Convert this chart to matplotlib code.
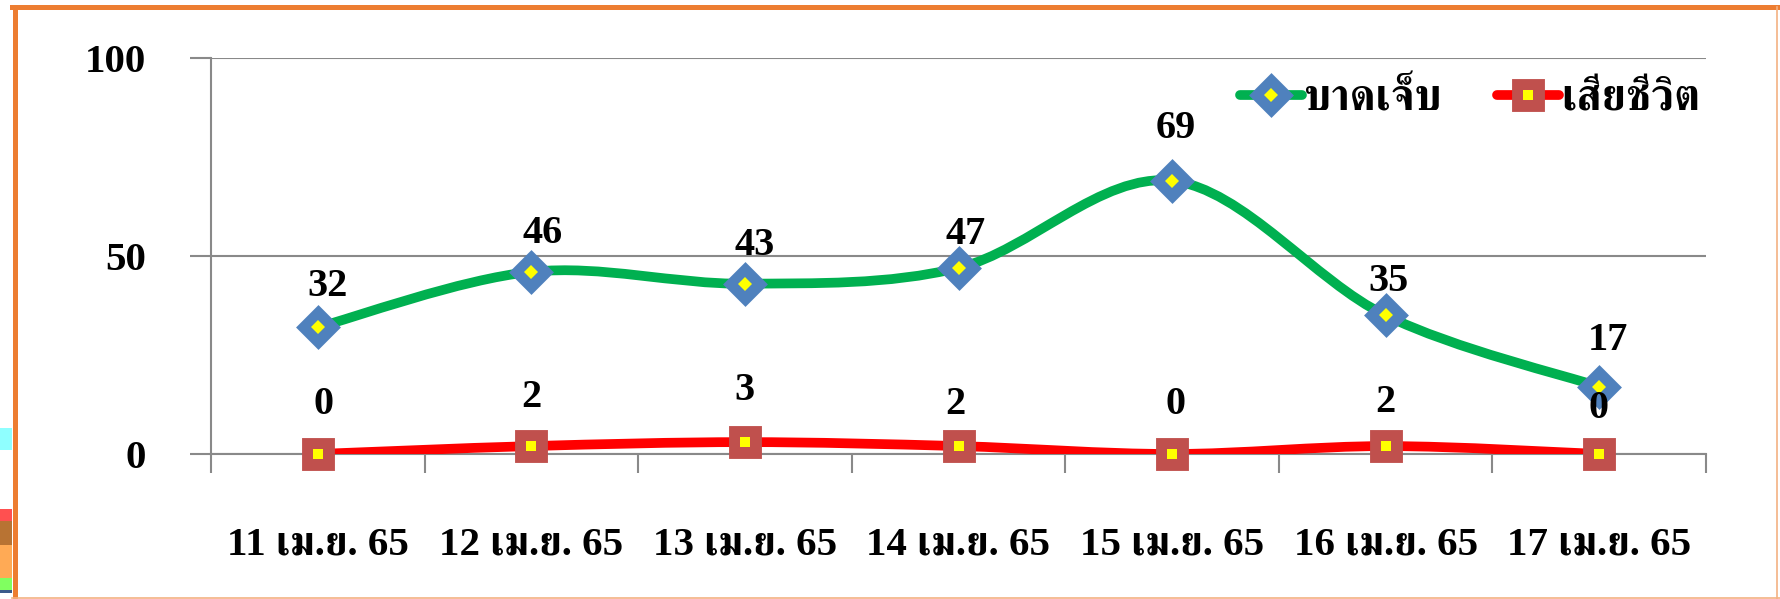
import matplotlib
matplotlib.use("Agg")
import matplotlib.pyplot as plt
from matplotlib.path import Path
from matplotlib.patches import PathPatch, Rectangle
from matplotlib.lines import Line2D
from matplotlib.legend_handler import HandlerTuple

# data
categories = ["11 เม.ย. 65", "12 เม.ย. 65", "13 เม.ย. 65", "14 เม.ย. 65",
              "15 เม.ย. 65", "16 เม.ย. 65", "17 เม.ย. 65"]
injured = [32, 46, 43, 47, 69, 35, 17]
deaths = [0, 2, 3, 2, 0, 2, 0]
series_names = ["บาดเจ็บ", "เสียชีวิต"]
y_ticks = [0, 50, 100]

# hand-placed label offsets in the original (pixels right, pixels up)
injured_label_px = [(10, 41), (11, 38), (10, 38), (7, 33), (4, 52), (3, 34), (9, 46)]
deaths_label_px = [(6, 49), (0, 49), (0, 52), (-3, 42), (3, 50), (0, 44), (-1, 45)]

plt.rcParams["font.family"] = ["Liberation Serif", "FreeSerif"]
plt.rcParams["font.weight"] = "bold"

W, H = 1780, 599
fig = plt.figure(figsize=(W / 100, H / 100), dpi=100)
ax = fig.add_axes([211 / W, 1 - 454 / H, (1706 - 211) / W, (454 - 58) / H])


def smooth_path(xs, ys):
    """Excel-like smoothed line as cubic bezier segments."""
    pts = list(zip(xs, ys))
    verts = [pts[0]]
    codes = [Path.MOVETO]
    n = len(pts)
    for i in range(n - 1):
        p0 = pts[max(i - 1, 0)]
        p1 = pts[i]
        p2 = pts[i + 1]
        p3 = pts[min(i + 2, n - 1)]
        c1 = (p1[0] + (p2[0] - p0[0]) / 6, p1[1] + (p2[1] - p0[1]) / 6)
        c2 = (p2[0] - (p3[0] - p1[0]) / 6, p2[1] - (p3[1] - p1[1]) / 6)
        verts += [c1, c2, p2]
        codes += [Path.CURVE4] * 3
    return Path(verts, codes)


xs = [i + 0.5 for i in range(len(categories))]

styles = [
    dict(vals=injured, offs=injured_label_px, line="#00B050", marker="D",
         ms=19.5, mfc="#4F81BD", inner="D", inner_ms=6.8),
    dict(vals=deaths, offs=deaths_label_px, line="#FF0000", marker="s",
         ms=19.5, mfc="#C0504D", inner="s", inner_ms=7.2),
]

handles = []
for st in styles:
    ax.add_patch(PathPatch(smooth_path(xs, st["vals"]), fill=False,
                           edgecolor=st["line"], lw=7, capstyle="round",
                           joinstyle="round", zorder=3))
    outer, = ax.plot(xs, st["vals"], ls="none", marker=st["marker"], ms=st["ms"],
                     mfc=st["mfc"], mec=st["mfc"], mew=3.5, zorder=4,
                     clip_on=False)
    inner, = ax.plot(xs, st["vals"], ls="none", marker=st["inner"],
                     ms=st["inner_ms"], mfc="#FFFF00", mec="#FFFF00", mew=0,
                     zorder=5, clip_on=False)
    for x, v, (dx, dy) in zip(xs, st["vals"], st["offs"]):
        ax.annotate(str(v), (x, v), xytext=(dx * 0.72, dy * 0.72),
                    textcoords="offset points", ha="center", va="center",
                    fontsize=29, fontweight="bold", zorder=6)
    seg = Line2D([], [], color=st["line"], lw=7, solid_capstyle="round")
    handles.append((seg, outer, inner))

ax.set_xlim(0, len(categories))
ax.set_ylim(0, 100)
ax.set_yticks(y_ticks)
ax.set_yticklabels([str(t) for t in y_ticks])
ax.set_xticks(range(len(categories) + 1))
ax.set_xticklabels([])
ax.set_xticks(xs, minor=True)
ax.set_xticklabels(categories, minor=True)

grey = "#898989"
ax.grid(axis="y", color=grey, lw=1.5)
ax.set_axisbelow(True)
for side in ["top", "right"]:
    ax.spines[side].set_visible(False)
for side in ["left", "bottom"]:
    ax.spines[side].set_color(grey)
    ax.spines[side].set_linewidth(1.5)
ax.tick_params(axis="y", which="major", direction="out", length=15, width=1.5,
               color=grey, pad=32, labelsize=29.5)
ax.tick_params(axis="x", which="major", direction="out", length=14, width=1.5,
               color=grey)
ax.tick_params(axis="x", which="minor", length=0, pad=52, labelsize=29.5)
for lab in ax.get_xticklabels(minor=True) + ax.get_yticklabels():
    lab.set_fontweight("bold")

fig.legend(handles=handles, labels=series_names,
           handler_map={tuple: HandlerTuple(ndivide=1)},
           loc="center left", bbox_to_anchor=(1240 / W, 1 - 99 / H),
           ncol=2, frameon=False, borderpad=0, borderaxespad=0,
           handlelength=1.42, handletextpad=0.05, columnspacing=1.25,
           prop=dict(weight="bold", size=31.5))

# slide frame and the bit of the neighbouring slide on the left
fig.add_artist(Line2D([14.5 / W, 14.5 / W], [1 - 6.5 / H, 0], color="#ED7D31",
                      lw=3.6, transform=fig.transFigure))
fig.add_artist(Line2D([12 / W, 1], [1 - 6.5 / H, 1 - 6.5 / H], color="#ED7D31",
                      lw=3.6, transform=fig.transFigure))
fig.add_artist(Line2D([1777 / W, 1777 / W], [1 - 6.5 / H, 0], color="#F4B183",
                      lw=1.2, transform=fig.transFigure))
fig.add_artist(Line2D([12 / W, 1], [1.5 / H, 1.5 / H], color="#F4B183",
                      lw=1.2, transform=fig.transFigure))
for y0, y1, c in [(428, 450, "#8FFFFF"), (509, 521, "#FF5050"),
                  (521, 545, "#B87333"), (545, 578, "#FFAA55"),
                  (578, 590, "#80FF60"), (590, 593, "#3B5A8A")]:
    fig.add_artist(Rectangle((0, 1 - y1 / H), 12 / W, (y1 - y0) / H,
                             color=c, transform=fig.transFigure, lw=0))

fig.savefig("out.png", dpi=100)
